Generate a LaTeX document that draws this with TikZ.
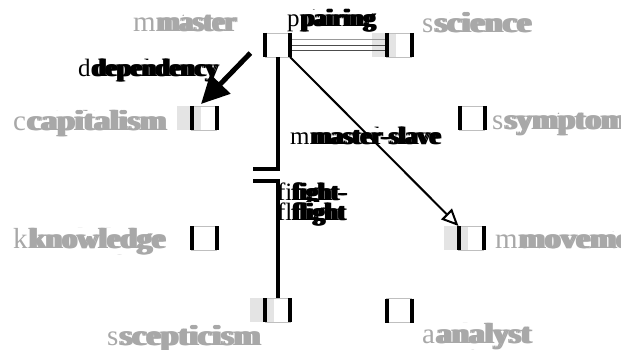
\documentclass[tikz,border=0pt]{standalone}
\usepackage{fontspec}
\setmainfont{Liberation Serif}
\usepackage{graphicx}
\usetikzlibrary{arrows.meta}
\definecolor{lblgrey}{HTML}{A8A8A8}
\definecolor{shadegrey}{HTML}{E4E4E4}
\newcommand{\dlabel}[7]{%
  \pgfmathsetmacro\dlw{#5-3}%
  \node[lbl,#2,anchor=base west] (#1-r) at (#3,#6) {#7};
  \node[lbl,#2,anchor=base west,fill=white] (#1-b) at (#4,#6) {\resizebox{\dlw pt}{\height}{\bfseries #7}};
  \node[lbl,#2,anchor=base west] (#1-bb) at (#4+1.5,#6) {\resizebox{\dlw pt}{\height}{\bfseries #7}};
  \node[lbl,#2,anchor=base west] (#1-bbb) at (#4+3,#6) {\resizebox{\dlw pt}{\height}{\bfseries #7}};
}
\begin{document}
\begin{tikzpicture}[x=1pt,y=-1pt,
  nbox/.style={draw=black!25, line width=0.6pt, minimum width=25pt, minimum height=24pt, inner sep=0pt, outer sep=0pt},
  side/.style={line width=4pt, black},
  shadebox/.style={fill=shadegrey},
  lbl/.style={inner sep=0pt, outer sep=0pt},
  nodelbl/.style={font=\fontsize{29}{30}\selectfont, text=lblgrey},
  edgelbl/.style={font=\fontsize{25}{26}\selectfont, text=black},
  pairline/.style={line width=0.8pt},
  dep/.style={line width=5pt, -{Triangle[length=28pt,width=27pt]}},
  ms/.style={line width=2pt, -{Triangle[open,length=17pt,width=15pt,line width=2pt]}},
  ff/.style={line width=4pt}
]
\useasboundingbox (0,0) rectangle (621,350);
% box nodes
\node[nbox] (master) at (277.5,45) {};
\node[nbox] (science) at (399,45) {};
\node[nbox] (capitalism) at (204,118) {};
\node[nbox] (symptom) at (472,118) {};
\node[nbox] (knowledge) at (204,238) {};
\node[nbox] (movement) at (471,238) {};
\node[nbox] (scepticism) at (277.5,310) {};
\node[nbox] (analyst) at (399,310.5) {};
% shades
\foreach \n in {science,capitalism,movement,scepticism}{
  \fill[shadebox] ([xshift=-15pt]\n.south west) rectangle ([xshift=-16pt]\n.north east);
}
% redraw box borders over shades
\foreach \n in {master,science,capitalism,symptom,knowledge,movement,scepticism,analyst}{
  \draw[draw=black!25, line width=0.6pt] (\n.north west) -- (\n.north east) (\n.south west) -- (\n.south east);
}
% node labels
\dlabel{lmaster}{nodelbl}{133}{155.6}{82.4}{32}{master}
\dlabel{lscience}{nodelbl}{422}{433.3}{99.7}{33}{science}
\dlabel{lcapitalism}{nodelbl}{13}{25.9}{142.1}{131}{capitalism}
\dlabel{lsymptom}{nodelbl}{492}{503.3}{125}{130}{symptom}
\dlabel{lknowledge}{nodelbl}{13}{27.5}{139.5}{248}{knowledge}
\dlabel{lmovement}{nodelbl}{495}{517.6}{142}{248}{movement}
\dlabel{lscepticism}{nodelbl}{107}{118.3}{143.7}{345}{scepticism}
\dlabel{lanalyst}{nodelbl}{422}{434.9}{98}{343}{analyst}
% edge labels
\dlabel{lpairing}{edgelbl}{287}{299.5}{77.5}{27}{pairing}
\dlabel{ldependency}{edgelbl}{78}{90.5}{129.5}{77}{dependency}
\dlabel{lmasterslave}{edgelbl}{290}{309.5}{132.5}{145}{master-slave}
\dlabel{lfight}{edgelbl}{277}{291}{57}{200}{fight-}
\dlabel{lflight}{edgelbl}{277}{291}{56}{220}{flight}
% pairing edge (three lines)
\draw[pairline, black!40] ([yshift=5.5pt]master.east) -- ([yshift=5.5pt]science.west);
\draw[pairline, black!70] (master.east) -- (science.west);
\draw[pairline, black!70] ([yshift=-5.5pt]master.east) -- ([yshift=-5.5pt]science.west);
% box sides
\foreach \n in {master,science,capitalism,symptom,knowledge,movement,scepticism,analyst}{
  \draw[side] (\n.north west) -- (\n.south west) (\n.north east) -- (\n.south east);
}
% dependency
\draw[dep, shorten <=21pt] ([yshift=7pt]master.west) -- ([xshift=-3pt,yshift=2pt]capitalism.north);
% master-slave
\draw[ms] (master.south east) -- (movement.north west);
% fight-flight with break
\coordinate (brkA) at (253,168.5);
\coordinate (brkB) at (253,180.5);
\draw[ff] (master.south) |- (brkA);
\draw[ff] (brkB) -| (scepticism.north);
\end{tikzpicture}
\end{document}
